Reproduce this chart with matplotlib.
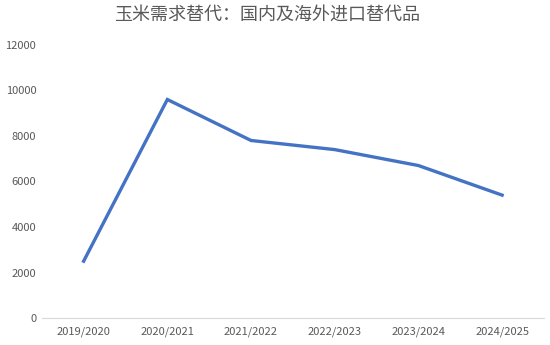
import matplotlib.pyplot as plt

plt.rcParams['font.family'] = ['Noto Sans CJK SC', 'DejaVu Sans']

seasons = ['2019/2020', '2020/2021', '2021/2022', '2022/2023', '2023/2024', '2024/2025']
values = [2500, 9600, 7800, 7400, 6700, 5400]

fig = plt.figure(figsize=(5.5, 3.45), dpi=100)
ax = fig.add_axes([0.076, 0.078, 0.913, 0.792])

ax.plot(range(len(seasons)), values, color='#4472C4', linewidth=2.4, solid_joinstyle='miter')

ax.set_xlim(-0.5, len(seasons) - 0.5)
ax.set_ylim(0, 12000)
ax.set_yticks(range(0, 12001, 2000))
ax.set_xticks(range(len(seasons)))
ax.set_xticklabels(seasons)
ax.tick_params(axis='both', length=0, colors='#595959', labelsize=8)
ax.tick_params(axis='x', pad=6)
ax.tick_params(axis='y', pad=4)

for s in ['top', 'right', 'left']:
    ax.spines[s].set_visible(False)
ax.spines['bottom'].set_color('#D9D9D9')

fig.suptitle('玉米需求替代：国内及海外进口替代品', x=0.485, y=0.985, fontsize=13,
             fontweight='light', color='#595959')

fig.savefig('out.png', dpi=100)
